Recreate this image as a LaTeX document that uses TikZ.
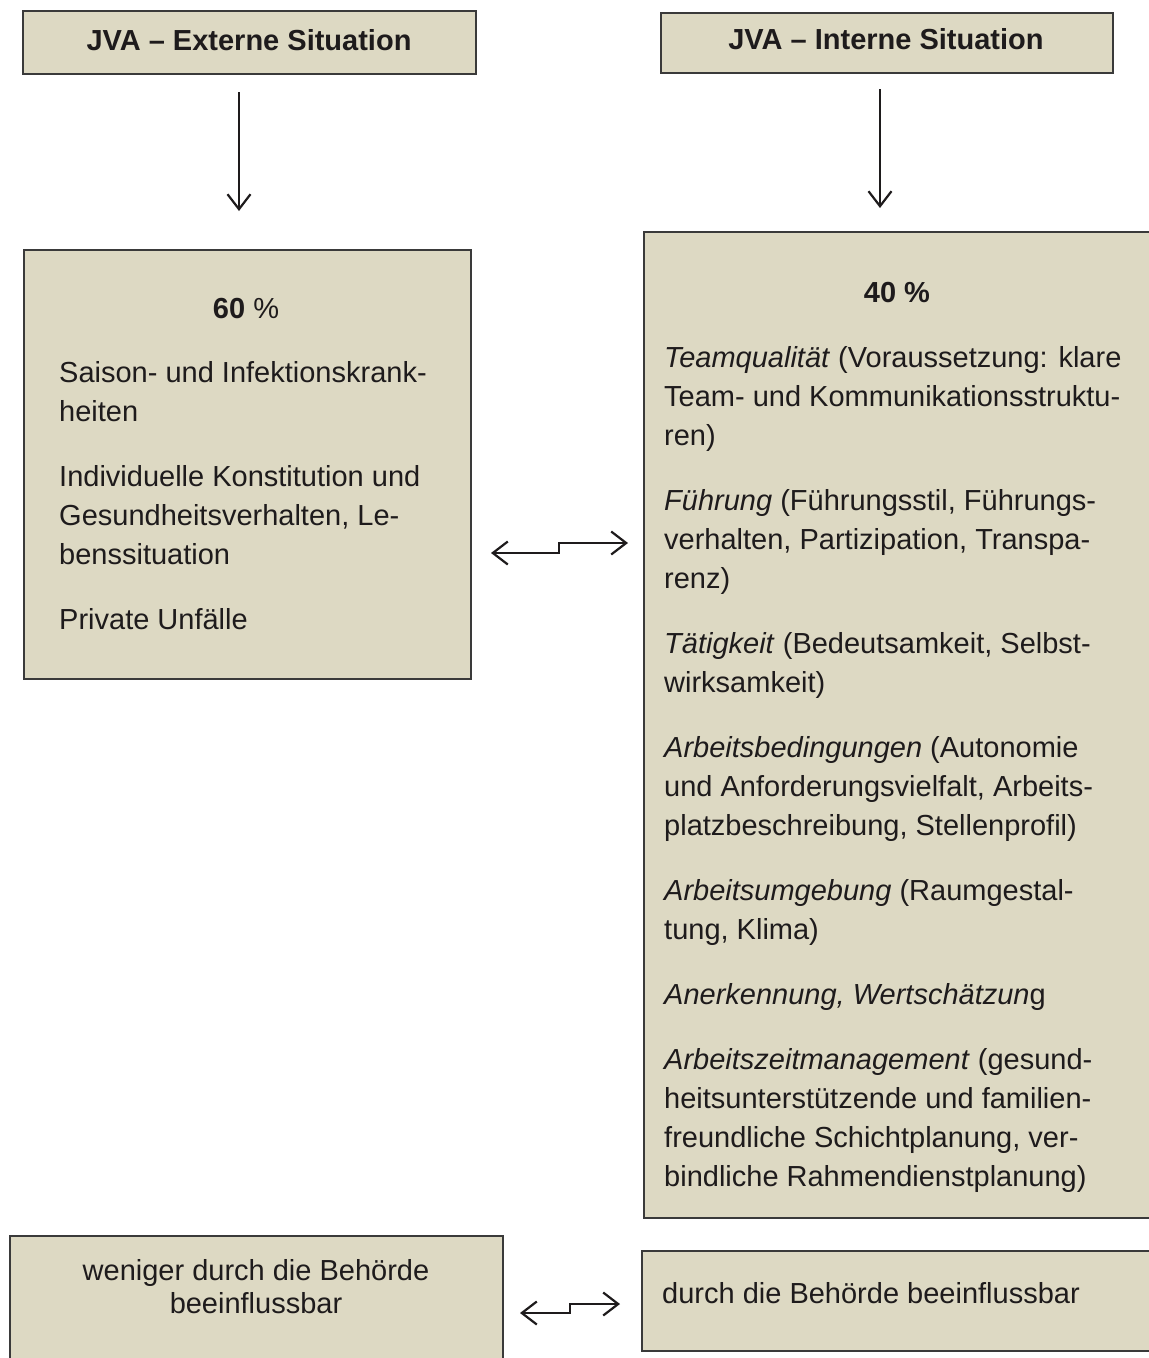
\documentclass[tikz,border=0pt]{standalone}
\usepackage{fontspec}
\setmainfont{Liberation Sans}
\usetikzlibrary{arrows.meta}
\definecolor{boxfill}{HTML}{DDD9C3}
\definecolor{boxline}{HTML}{3A3A3A}
\definecolor{txtcol}{HTML}{1E1B1C}
\tikzset{
  box/.style={draw=boxline, line width=1.5pt, fill=boxfill, inner sep=0pt, anchor=north west},
  txt/.style={text=txtcol, inner sep=0pt, font=\fontsize{29}{39}\selectfont},
  par/.style={txt, align=left, anchor=north west},
  arr/.style={line width=2.2pt, draw=txtcol, -{Straight Barb[length=15pt,width=23pt]}},
  darr/.style={line width=2.2pt, draw=txtcol,
    {Straight Barb[length=15pt,width=23pt]}-{Straight Barb[length=15pt,width=23pt]}},
}
% strut for the first line of a paragraph (top = baseline - 24pt)
\newcommand{\fl}{\rule{0pt}{24pt}}
\begin{document}
\begin{tikzpicture}[x=1pt,y=-1pt]
  \useasboundingbox (0,0) rectangle (1149,1358);
  \clip (0,0) rectangle (1149,1358);
% boxes
  \node[box, minimum width=453pt, minimum height=63pt] (ext) at (22,10) {};
  \node[box, minimum width=452pt, minimum height=60pt] (int) at (660,12) {};
  \node[box, minimum width=447pt, minimum height=429pt] (extM) at (23,249) {};
  \node[box, minimum width=512pt, minimum height=986pt] (intM) at (643,231) {};
  \node[box, minimum width=493pt, minimum height=140pt] (extF) at (9,1235) {};
  \node[box, minimum width=512pt, minimum height=100pt] (intF) at (641,1250) {};
% titles
  \node[txt, anchor=base, font=\fontsize{29}{39}\selectfont\bfseries] (extT) at (249,50) {JVA -- Externe Situation};
  \node[txt, anchor=base, font=\fontsize{29}{39}\selectfont\bfseries] (intT) at (886,49) {JVA -- Interne Situation};
% external factors
  \node[txt, anchor=base] (extP) at (246,318) {\textbf{60} \%};
  \node[par] (extL) at (59,358) {\fl Saison- und Infektionskrank-\\heiten\\[26pt]
    Individuelle Konstitution und\\Gesundheitsverhalten, Le-\\benssituation\\[26pt]
    Private Unfälle};
% internal factors
  \node[txt, anchor=base] (intP) at (897,302) {\textbf{40 \%}};
  \node[par] (intL) at (664,343) {\fl\textit{Teamqualität} (Voraussetzung: klare\\Team- und Kommunikationsstruktu-\\ren)\\[26pt]
    \textit{Führung} (Führungsstil, Führungs-\\verhalten, Partizipation, Transpa-\\renz)\\[26pt]
    \textit{Tätigkeit} (Bedeutsamkeit, Selbst-\\wirksamkeit)\\[26pt]
    \textit{Arbeitsbedingungen} (Autonomie\\und Anforderungsvielfalt, Arbeits-\\platzbeschreibung, Stellenprofil)\\[26pt]
    \textit{Arbeitsumgebung} (Raumgestal-\\tung, Klima)\\[26pt]
    \textit{Anerkennung, Wertschätzun}g\\[26pt]
    \textit{Arbeitszeitmanagement} (gesund-\\heitsunterstützende und familien-\\freundliche Schichtplanung, ver-\\bindliche Rahmendienstplanung)};
% footer
  \node[txt, align=center, anchor=north, font=\fontsize{29}{33}\selectfont] (extN) at (256,1256) {\fl weniger durch die Behörde\\beeinflussbar};
  \node[txt, anchor=base west] (intN) at (662,1303) {durch die Behörde beeinflussbar};
% arrows
  \coordinate (extA) at (239,92);
  \coordinate (extB) at (239,211);
  \coordinate (intA) at (880,89);
  \coordinate (intB) at (880,208);
  \draw[arr] (extA) -- (extB);
  \draw[arr] (intA) -- (intB);
  \coordinate (midL) at (491,553);
  \coordinate (midS) at (559,543);
  \coordinate (midR) at (628,543);
  \draw[darr] (midL) -| (midS) -- (midR);
  \coordinate (botL) at (520,1313);
  \coordinate (botS) at (570,1304);
  \coordinate (botR) at (620,1304);
  \draw[darr] (botL) -| (botS) -- (botR);
\end{tikzpicture}
\end{document}
